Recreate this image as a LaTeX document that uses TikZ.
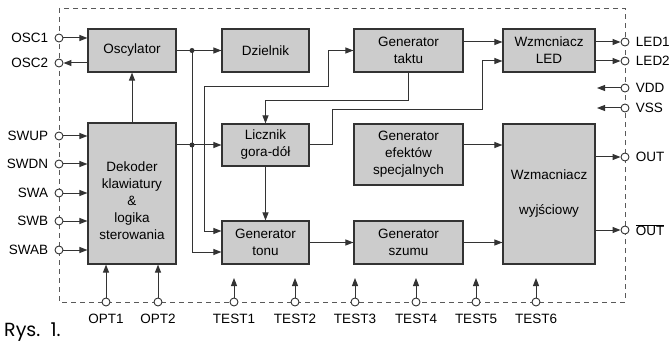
\documentclass[tikz,border=0pt]{standalone}
\usepackage{fontspec}
\setmainfont{Liberation Sans}
\newfontfamily\rysfont{Poppins}
\usepackage{tikz}
\usetikzlibrary{positioning, arrows.meta}

\definecolor{blokfill}{HTML}{CCCCCC}
\definecolor{linia}{HTML}{333333}

\begin{document}
\begin{tikzpicture}[
  x=1pt, y=-1pt,
  font=\fontsize{13.5}{17}\selectfont,
  blok/.style = {draw=linia, line width=1.1pt, fill=blokfill, align=center, minimum width=87pt, minimum height=43pt, inner sep=2pt},
  wire/.style = {draw=linia, line width=1pt, -{Triangle[length=8pt, width=6pt]}},
  pin/.style = {circle, draw=linia, line width=0.9pt, fill=white, minimum size=8pt, inner sep=0pt},
  lewy/.style = {pin, label={[xshift=-3pt]left:#1}},
  prawy/.style = {pin, label={[xshift=3pt]right:#1}},
  dolny/.style = {pin, label={[yshift=-4pt]below:#1}},
  kropka/.style = {circle, fill=linia, minimum size=5pt, inner sep=0pt},
]
\useasboundingbox (0,0) rectangle (672,342);
% obudowa
\draw[gray!70!black, line width=0.9pt, dash pattern=on 5pt off 4pt] (59,8) rectangle (625,302);
% bloki
\node[blok, minimum width=88pt] (osc) at (132,50.5) {Oscylator};
\node[blok] (dziel) at (265.5,50.5) {Dzielnik};
\node[blok, minimum width=109pt] (takt) at (408.5,50.5) {Generator\\taktu};
\node[blok, minimum width=92pt] (led) at (549,50.5) {Wzmcniacz\\LED};
\node[blok, minimum width=88pt, minimum height=141pt] (dek) at (132,193.5) {\rule{0pt}{24pt}Dekoder\\klawiatury\\\&\\logika\\sterowania};
\node[blok, minimum height=42pt] (licz) at (265.5,145) {Licznik\\gora-dół};
\node[blok, minimum width=109pt, minimum height=61pt] (efekt) at (408.5,154.5) {Generator\\efektów\\specjalnych};
\node[blok, minimum width=92pt, minimum height=140pt] (wzm) at (549,194) {Wzmacniacz\\[18pt]wyjściowy};
\node[blok] (ton) at (265.5,242.5) {Generator\\tonu};
\node[blok, minimum width=109pt] (szum) at (408.5,242.5) {Generator\\szumu};
% wyprowadzenia
\node[lewy=OSC1] (osc1) at (59,38) {};
\node[lewy=OSC2] (osc2) at (59,63) {};
\node[lewy=SWUP] (swup) at (59,136) {};
\node[lewy=SWDN] (swdn) at (59,164) {};
\node[lewy=SWA] (swa) at (59,193) {};
\node[lewy=SWB] (swb) at (59,221) {};
\node[lewy=SWAB] (swab) at (59,250) {};
\node[prawy=LED1] (led1) at (625,42) {};
\node[prawy=LED2] (led2) at (625,61) {};
\node[prawy=VDD] (vdd) at (625,88) {};
\node[prawy=VSS] (vss) at (625,108) {};
\node[prawy=OUT] (out) at (625,157) {};
\node[prawy={$\overline{\mbox{OUT}}$}] (outn) at (625,230) {};
\node[dolny=OPT1] (opt1) at (106,302) {};
\node[dolny=OPT2] (opt2) at (158,302) {};
\coordinate (vdd-k) at (597,88);
\coordinate (vss-k) at (597,108);
\coordinate (j1) at (192,50.5);
\coordinate (j2) at (192,145);
\coordinate (p1) at (204,87);
\coordinate (p2) at (328,87);
\coordinate (p3) at (482,110);
\node[anchor=west, inner sep=0pt, font=\rysfont\fontsize{19}{21}\selectfont] (rys) at (4,332) {Rys.\ \ 1.};
% polaczenia
\draw[wire] (osc1) -- (osc1 -| osc.west);
\draw[wire] (osc2 -| osc.west) -- (osc2);
\foreach \p in {swup, swdn, swa, swb, swab}
  \draw[wire] (\p) -- (\p -| dek.west);
\draw[wire] (opt1) -- (opt1 |- dek.south);
\draw[wire] (opt2) -- (opt2 |- dek.south);
\draw[wire] (dek.north) -- (osc.south);
\draw[wire] (osc) -- (dziel);
\draw[wire] (dek.east |- j2) -- (licz);
\draw[wire] (j1) |- ([yshift=-9.5pt]ton.west);
\node[kropka] at (j1) {};
\node[kropka] at (j2) {};
\draw[wire] (p1) -- (p2) |- (takt.west);
\draw[wire] (p1) |- ([yshift=11.5pt]ton.west);
\draw[wire] (takt.south) -- ++(0,28) -| (licz.north);
\draw[wire] (licz.east) -- ++(23,0) |- (p3) |- ([yshift=-10.5pt]led.west);
\draw[wire] ([yshift=8.5pt]takt.east) -- ([yshift=8.5pt]led.west);
\draw[wire] (led.east |- led1) -- (led1);
\draw[wire] (led.east |- led2) -- (led2);
\draw[wire] (vdd) -- (vdd-k);
\draw[wire] (vss) -- (vss-k);
\draw[wire] (licz) -- (ton);
\draw[wire] (ton) -- (szum);
\draw[wire] (szum) -- (szum -| wzm.west);
\draw[wire] (efekt.east |- j2) -- (wzm.west |- j2);
\draw[wire] (wzm.east |- out) -- (out);
\draw[wire] (wzm.east |- outn) -- (outn);
\foreach \i/\x in {1/234, 2/295, 3/355, 4/416, 5/476, 6/536} {
  \node[dolny=TEST\i] (test\i) at (\x,302) {};
  \coordinate (test\i-k) at (\x,278);
  \draw[wire] (test\i) -- (test\i-k);
}
\end{tikzpicture}
\end{document}
